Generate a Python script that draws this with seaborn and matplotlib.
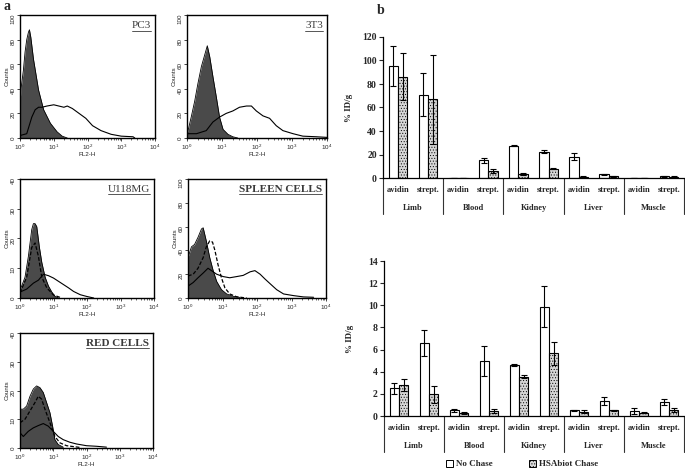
import numpy as np
import pandas as pd
import matplotlib
matplotlib.use('Agg')
import matplotlib.pyplot as plt
import matplotlib.transforms as mtransforms
from matplotlib.lines import Line2D
from matplotlib.patches import Patch
import seaborn as sns

# ---- panel a: flow cytometry histograms (x = log10 FL2-H, y = counts) ----
pc3_fill_x = [0, 0.03, 0.1, 0.15, 0.2, 0.25, 0.28, 0.32, 0.4, 0.55, 0.7, 0.9, 1.1, 1.25, 1.4]
pc3_fill_y = [28, 40, 55, 70, 80, 86, 88, 82, 64, 39, 23, 12, 5, 1.5, 0]
pc3_line_x = [0, 0.2, 0.35, 0.45, 0.55, 0.65, 0.8, 1.0, 1.15, 1.3, 1.4, 1.55, 1.75, 1.95, 2.15, 2.4, 2.7, 3.0, 3.35, 3.4]
pc3_line_y = [2, 3.5, 17, 23, 25, 25, 26, 27, 26, 25, 26, 24, 20, 16, 10, 6, 3, 1.5, 1, 0]

t3_fill_x = [0, 0.03, 0.12, 0.22, 0.31, 0.41, 0.5, 0.58, 0.65, 0.74, 0.84, 0.93, 1.03, 1.17, 1.31, 1.45]
t3_fill_y = [5, 6, 17, 30, 44, 58, 67, 75, 66, 50, 33, 17, 7, 3, 1, 0]
t3_line_x = [0, 0.27, 0.55, 0.74, 0.93, 1.12, 1.31, 1.5, 1.7, 1.84, 1.98, 2.17, 2.36, 2.55, 2.74, 3.03, 3.31, 3.7, 4.0]
t3_line_y = [3.5, 3.5, 6, 13, 17, 20, 22, 25, 26, 26, 22, 18, 16, 10, 6, 3.5, 1.5, 1, 0.5]

u118_fill_x = [0, 0.05, 0.15, 0.25, 0.35, 0.4, 0.45, 0.5, 0.58, 0.65, 0.75, 0.85, 0.95, 1.05, 1.15]
u118_fill_y = [3, 4, 7, 14, 23, 25, 25, 24, 17, 12, 7, 4, 2, 0.5, 0]
u118_dash_x = [0, 0.2, 0.35, 0.45, 0.55, 0.65, 0.8, 1.0, 1.2]
u118_dash_y = [1.7, 7, 17, 18.5, 14, 7, 3.4, 1, 0.2]
u118_line_x = [0, 0.2, 0.4, 0.55, 0.7, 0.85, 1.0, 1.15, 1.3, 1.45, 1.6, 1.8, 2.0, 2.2]
u118_line_y = [2, 3, 5, 6, 8, 7.5, 6.7, 5.6, 4.5, 3.4, 2.2, 1.1, 0.5, 0]

spl_fill_x = [0, 0.1, 0.19, 0.29, 0.39, 0.44, 0.53, 0.63, 0.73, 0.83, 0.97, 1.12, 1.31, 1.5]
spl_fill_y = [34, 43, 45, 51, 58, 59, 48, 34, 23, 14, 7, 3.4, 1.4, 0.5]
spl_dash_x = [0, 0.15, 0.29, 0.44, 0.53, 0.63, 0.71, 0.78, 0.87, 0.97, 1.07, 1.21, 1.41, 1.7]
spl_dash_y = [18.5, 20, 25, 34, 43, 48, 47, 40, 28, 17, 8.5, 3.4, 1, 0]
spl_line_x = [0, 0.15, 0.29, 0.44, 0.58, 0.68, 0.83, 1.02, 1.21, 1.41, 1.6, 1.8, 1.94, 2.09, 2.23, 2.38, 2.57, 2.77, 3.06, 3.35, 3.64]
spl_line_y = [10, 13, 17, 21, 25, 23, 20, 18, 17, 18, 19, 22, 23, 20, 16, 12, 7, 3.4, 2, 0.9, 0.6]

red_fill_x = [0, 0.1, 0.2, 0.3, 0.4, 0.5, 0.6, 0.7, 0.8, 0.9, 0.98, 1.05, 1.15, 1.3]
red_fill_y = [13.5, 13.5, 14.6, 18, 20.5, 21.6, 21, 19.3, 15.8, 12.3, 7.6, 2.9, 1.2, 0.3]
red_dash_x = [0, 0.15, 0.3, 0.45, 0.55, 0.65, 0.75, 0.9, 1.05, 1.2, 1.4, 1.8]
red_dash_y = [8.8, 10, 12.9, 15.8, 18, 17, 13.5, 8.8, 4, 1.8, 0.8, 0.2]
red_line_x = [0, 0.1, 0.25, 0.4, 0.55, 0.7, 0.85, 1.0, 1.15, 1.3, 1.5, 1.7, 2.0, 2.3, 2.6]
red_line_y = [5.3, 4, 5.8, 7, 7.8, 8.5, 7.6, 5.8, 4, 2.9, 2, 1.4, 0.8, 0.6, 0.3]

# ---- panel b: biodistribution bars (%ID/g) ----
organs = ['Limb', 'Blood', 'Kidney', 'Liver', 'Muscle']
reagents = ['avidin', 'strept.']
chase = ['No Chase', 'HSAbiot Chase']

top_nochase = [95, 71, 0.3, 15, 27.5, 22.5, 18, 3, 0.3, 1.5]
top_nochase_err = [17, 18, 0.1, 2, 0.5, 1.5, 3, 0.7, 0.1, 0.5]
top_hsa = [86, 67, 0.3, 6, 3.5, 8, 1, 1.5, 0.1, 1]
top_hsa_err = [20, 38, 0.1, 2, 0.7, 0.5, 0.5, 0.5, 0.05, 0.3]

bot_nochase = [2.5, 6.6, 0.5, 5.0, 4.6, 9.85, 0.5, 1.35, 0.45, 1.25]
bot_nochase_err = [0.5, 1.15, 0.15, 1.35, 0.1, 1.85, 0.05, 0.35, 0.25, 0.3]
bot_hsa = [2.8, 1.95, 0.3, 0.45, 3.55, 5.65, 0.4, 0.5, 0.3, 0.55]
bot_hsa_err = [0.55, 0.75, 0.1, 0.2, 0.15, 1.05, 0.1, 0.05, 0.05, 0.2]

sns.set_style('ticks')
plt.rcParams['font.family'] = ['Liberation Sans', 'DejaVu Sans']
plt.rcParams['hatch.linewidth'] = 0.4

W, H = 685, 469
fig = plt.figure(figsize=(W / 100, H / 100), dpi=100)


def px_axes(l, t, r, b):
    return fig.add_axes([l / W, 1 - b / H, (r - l) / W, (b - t) / H])


def flow_panel(box, title, bold, ymax, fill, line, dash=None):
    ax = px_axes(*box)
    fx = 10 ** np.array(fill[0])
    ax.fill_between(fx, fill[1], color='#4a4a4a', lw=0)
    sns.lineplot(x=fx, y=fill[1], ax=ax, color='black', lw=0.6)
    if dash is not None:
        sns.lineplot(x=10 ** np.array(dash[0]), y=dash[1], ax=ax, color='black', lw=0.9, linestyle=(0, (3, 1.5)))
    sns.lineplot(x=10 ** np.array(line[0]), y=line[1], ax=ax, color='black', lw=0.8)
    ax.set_xscale('log')
    ax.set_xlim(1, 1e4)
    ax.set_ylim(0, ymax)
    ax.set_yticks(np.arange(0, ymax + 1, 20 if ymax == 100 else 10))
    ax.tick_params(axis='y', labelrotation=90, labelsize=4.5, length=2, width=0.6, pad=1)
    ax.tick_params(axis='x', which='major', labelsize=4.5, length=2.5, width=0.6, pad=1)
    ax.tick_params(axis='x', which='minor', length=1.5, width=0.5)
    for s in ax.spines.values():
        s.set_linewidth(1.0)
        s.set_color('black')
    ax.set_xlabel('FL2-H', fontsize=4.5, labelpad=0)
    ax.set_ylabel('Counts', fontsize=4.5, labelpad=1)
    t = ax.text(0.97, 0.95, title, transform=ax.transAxes, ha='right', va='top',
                family='Liberation Serif', fontsize=8, color='#3a3a3a',
                fontweight='bold' if bold else 'normal')
    return t


titles = []
titles.append(flow_panel((20, 15, 155, 138), 'PC3', False, 100,
                         (pc3_fill_x, pc3_fill_y), (pc3_line_x, pc3_line_y)))
titles.append(flow_panel((187, 15, 327, 138), '3T3', False, 100,
                         (t3_fill_x, t3_fill_y), (t3_line_x, t3_line_y)))
titles.append(flow_panel((20, 179, 154, 298), 'U118MG', False, 40,
                         (u118_fill_x, u118_fill_y), (u118_line_x, u118_line_y), (u118_dash_x, u118_dash_y)))
titles.append(flow_panel((188, 179, 326, 298), 'SPLEEN CELLS', True, 100,
                         (spl_fill_x, spl_fill_y), (spl_line_x, spl_line_y), (spl_dash_x, spl_dash_y)))
titles.append(flow_panel((20, 333, 153, 448), 'RED CELLS', True, 40,
                         (red_fill_x, red_fill_y), (red_line_x, red_line_y), (red_dash_x, red_dash_y)))

serif_b = dict(family='Liberation Serif', fontweight='bold')


def bar_panel(box, nc, nc_err, hs, hs_err, ymax, step):
    ax = px_axes(*box)
    slots = [o + ' ' + r for o in organs for r in reagents]
    df = pd.DataFrame({'slot': slots * 2,
                       'chase': [chase[0]] * len(slots) + [chase[1]] * len(slots),
                       'value': nc + hs})
    sns.barplot(data=df, x='slot', y='value', hue='chase', order=slots, hue_order=chase,
                palette=['white', '#d6d6d6'], saturation=1, width=0.62, gap=0,
                edgecolor='black', linewidth=0.8, errorbar=None, legend=False, ax=ax)
    for cont, errs in zip(ax.containers, [nc_err, hs_err]):
        for bar, e in zip(cont.patches, errs):
            ax.errorbar(bar.get_x() + bar.get_width() / 2, bar.get_height(), yerr=e,
                        color='black', lw=0.8, capsize=2, capthick=0.8)
    for bar in ax.containers[1].patches:
        bar.set_hatch('......')
    ax.set_xlim(-0.5, len(slots) - 0.5)
    ax.set_ylim(0, ymax)
    ax.set_yticks(np.arange(0, ymax + step / 2, step))
    ax.set_xticks([])
    ax.set_xlabel('')
    ax.set_ylabel('% ID/g', fontsize=6.5, **serif_b)
    ax.yaxis.set_label_coords(-0.10, 0.5)
    for lab in ax.get_yticklabels():
        lab.set_fontfamily('Liberation Serif')
        lab.set_fontweight('bold')
        lab.set_fontsize(7)
    ax.tick_params(axis='y', length=3, width=0.8, pad=1.5)
    sns.despine(ax=ax)
    for s in ax.spines.values():
        s.set_linewidth(0.9)
        s.set_color('black')
    hpx = box[3] - box[1]
    tr = mtransforms.blended_transform_factory(ax.transData, ax.transAxes)
    for i, slot in enumerate(slots):
        ax.text(i, -12 / hpx, reagents[i % 2], transform=tr, ha='center', va='center',
                fontsize=6, **serif_b)
    for g, organ in enumerate(organs):
        ax.text(2 * g + 0.5, -30 / hpx, organ, transform=tr, ha='center', va='center',
                fontsize=6, **serif_b)
    for g in range(len(organs) + 1):
        ax.add_line(Line2D([2 * g - 0.5] * 2, [0, -36 / hpx], transform=tr,
                           color='#333333', lw=0.8, clip_on=False))
    return ax


bar_panel((383, 37, 684, 178), top_nochase, top_nochase_err, top_hsa, top_hsa_err, 120, 20)
bar_panel((384, 261, 684, 416), bot_nochase, bot_nochase_err, bot_hsa, bot_hsa_err, 14, 2)

handles = [Patch(facecolor='white', edgecolor='black', lw=0.7),
           Patch(facecolor='#d6d6d6', edgecolor='black', lw=0.7, hatch='......')]
fig.legend(handles, chase, loc='center', bbox_to_anchor=(522 / W, 1 - 464 / H), ncol=2,
           frameon=False, prop=dict(family='Liberation Serif', weight='bold', size=6.5),
           handlelength=0.8, handleheight=0.8, handletextpad=0.3, columnspacing=4)

fig.text(3 / W, 1 - 6 / H, 'a', fontsize=10, va='center', ha='left', **serif_b)
fig.text(377 / W, 1 - 10 / H, 'b', fontsize=10, va='center', ha='left', **serif_b)

# underline the sample names
fig.canvas.draw()
inv = fig.transFigure.inverted()
for t in titles:
    bb = t.get_window_extent()
    (x0, y0), (x1, _) = inv.transform([(bb.x0, bb.y0 - 0.5), (bb.x1, bb.y0)])
    fig.add_artist(Line2D([x0, x1], [y0, y0], transform=fig.transFigure,
                          color='#3a3a3a', lw=0.6))

fig.savefig('out.png', dpi=100)
